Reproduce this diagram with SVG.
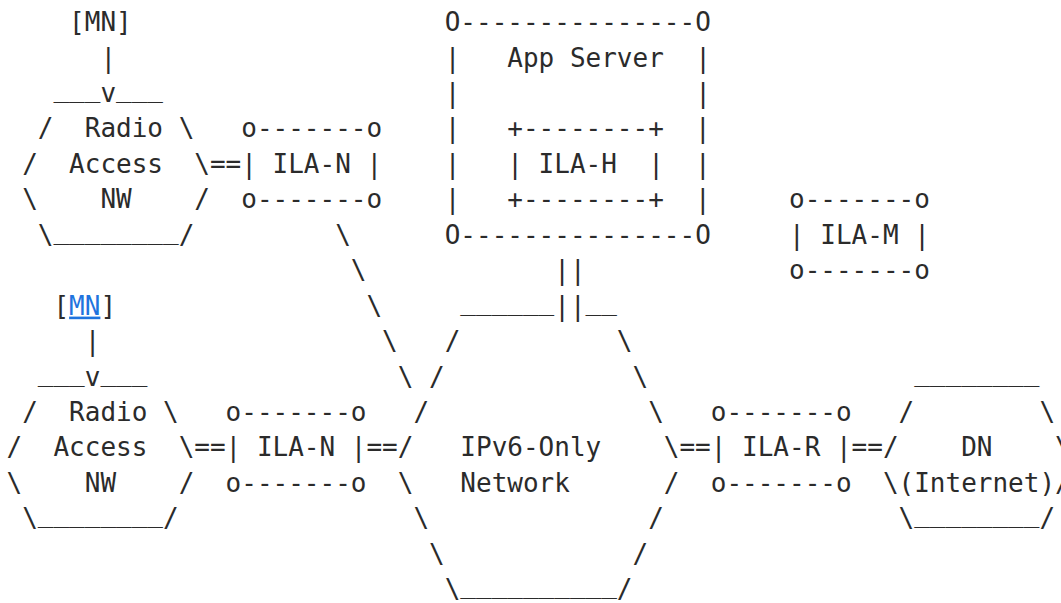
<svg xmlns="http://www.w3.org/2000/svg" width="1061" height="603" viewBox="0 0 1061 603">
<style>
text{font-family:"DejaVu Sans Mono","Liberation Mono",monospace;font-size:26px;fill:#2b2b2b;white-space:pre}
.lnk{fill:#1f74de;text-decoration:underline}
</style>
<rect width="1061" height="603" fill="#ffffff"/>
<g id="mn-top">
<text x="69.1" y="31">[MN]</text>
</g>
<g id="ran-top">
<text x="53.45" y="96.9">___</text>
<text x="116.05" y="96.9">___</text>
<text x="37.8" y="137.4">/  Radio \</text>
<text x="22.15" y="172.8">/  Access  \</text>
<text x="22.15" y="208.3">\    NW    /</text>
<text x="37.8" y="243.7">\</text>
<text x="53.45" y="238.7">________</text>
<text x="178.65" y="243.7">/</text>
</g>
<g id="ila-n-top">
<text x="241.25" y="137.4">o-------o</text>
<text x="241.25" y="172.8">| ILA-N |</text>
<text x="241.25" y="208.3">o-------o</text>
</g>
<g id="app-server">
<text x="444.7" y="31">O---------------O</text>
<text x="444.7" y="66.5">|   App Server  |</text>
<text x="444.7" y="101.9">|               |</text>
<text x="444.7" y="137.4">|</text>
<text x="444.7" y="172.8">|</text>
<text x="444.7" y="208.3">|</text>
<text x="695.1" y="137.4">|</text>
<text x="695.1" y="172.8">|</text>
<text x="695.1" y="208.3">|</text>
<text x="444.7" y="243.7">O---------------O</text>
</g>
<g id="ila-h">
<text x="507.3" y="137.4">+--------+</text>
<text x="507.3" y="172.8">| ILA-H  |</text>
<text x="507.3" y="208.3">+--------+</text>
</g>
<g id="ila-m">
<text x="789" y="208.3">o-------o</text>
<text x="789" y="243.7">| ILA-M |</text>
<text x="789" y="279.2">o-------o</text>
</g>
<g id="mn-bottom">
<text x="53.45" y="314.6">[<tspan class="lnk">MN</tspan>]</text>
</g>
<g id="ran-bottom">
<text x="37.8" y="380.5">___</text>
<text x="100.4" y="380.5">___</text>
<text x="22.15" y="421">/  Radio \</text>
<text x="6.5" y="456.4">/  Access  \</text>
<text x="6.5" y="491.9">\    NW    /</text>
<text x="22.15" y="527.3">\</text>
<text x="37.8" y="522.3">________</text>
<text x="163" y="527.3">/</text>
</g>
<g id="ila-n-bottom">
<text x="225.6" y="421">o-------o</text>
<text x="225.6" y="456.4">| ILA-N |</text>
<text x="225.6" y="491.9">o-------o</text>
</g>
<g id="ipv6-network">
<text x="460.35" y="309.6">______</text>
<text x="585.55" y="309.6">__</text>
<text x="444.7" y="350.1">/</text>
<text x="616.85" y="350.1">\</text>
<text x="429.05" y="385.5">/</text>
<text x="632.5" y="385.5">\</text>
<text x="413.4" y="421">/</text>
<text x="648.15" y="421">\</text>
<text x="397.75" y="456.4">/</text>
<text x="460.35" y="456.4">IPv6-Only</text>
<text x="663.8" y="456.4">\</text>
<text x="397.75" y="491.9">\</text>
<text x="460.35" y="491.9">Network</text>
<text x="663.8" y="491.9">/</text>
<text x="413.4" y="527.3">\</text>
<text x="648.15" y="527.3">/</text>
<text x="429.05" y="562.8">\</text>
<text x="632.5" y="562.8">/</text>
<text x="444.7" y="598.2">\</text>
<text x="460.35" y="593.2">__________</text>
<text x="616.85" y="598.2">/</text>
</g>
<g id="ila-r">
<text x="710.75" y="421">o-------o</text>
<text x="710.75" y="456.4">| ILA-R |</text>
<text x="710.75" y="491.9">o-------o</text>
</g>
<g id="dn">
<text x="914.2" y="380.5">________</text>
<text x="898.55" y="421">/        \</text>
<text x="882.9" y="456.4">/    DN    \</text>
<text x="882.9" y="491.9">\(Internet)/</text>
<text x="898.55" y="527.3">\</text>
<text x="914.2" y="522.3">________</text>
<text x="1039.4" y="527.3">/</text>
</g>
<g id="connectors">
<text x="100.4" y="66.5">|</text>
<text x="100.4" y="101.9">v</text>
<text x="209.95" y="172.8">==</text>
<text x="335.15" y="243.7">\</text>
<text x="350.8" y="279.2">\</text>
<text x="366.45" y="314.6">\</text>
<text x="382.1" y="350.1">\</text>
<text x="397.75" y="385.5">\</text>
<text x="554.25" y="279.2">||</text>
<text x="554.25" y="314.6">||</text>
<text x="84.75" y="350.1">|</text>
<text x="84.75" y="385.5">v</text>
<text x="194.3" y="456.4">==</text>
<text x="366.45" y="456.4">==</text>
<text x="679.45" y="456.4">==</text>
<text x="851.6" y="456.4">==</text>
</g>
</svg>
